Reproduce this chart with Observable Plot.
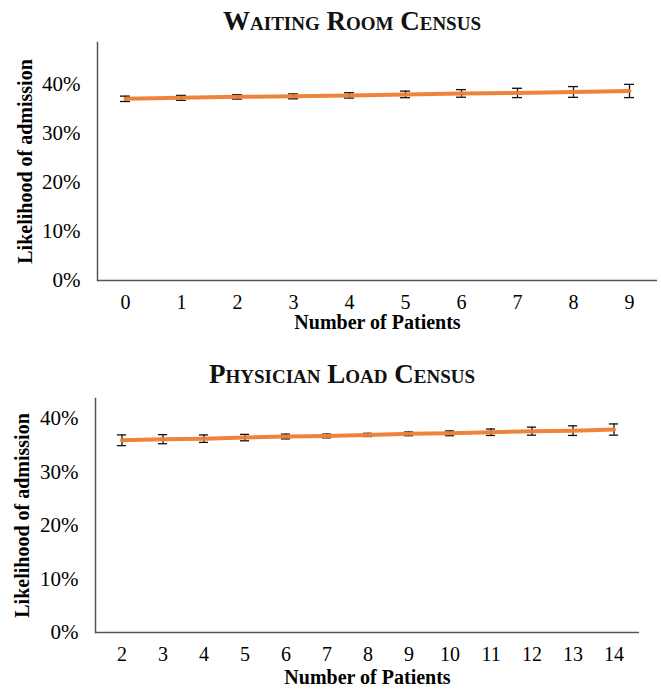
<!DOCTYPE html>
<html>
<head>
<meta charset="utf-8">
<script src="https://cdn.jsdelivr.net/npm/d3@7"></script>
<script src="https://cdn.jsdelivr.net/npm/@observablehq/plot@0.6"></script>
<style>
  body { margin: 0; background: #fff; }
  #root { position: relative; width: 661px; height: 690px; font-family: "Liberation Serif", "Times New Roman", serif; }
  .title { position: absolute; transform: translateX(-50%); white-space: nowrap; font-weight: bold; font-variant: small-caps; font-size: 27px; line-height: 1; color: #111; }
  .panel { position: absolute; left: 0; }
</style>
</head>
<body>
<div id="root"></div>
<script>
// ---- data ----
const waitingTitle = "Waiting Room Census";
const waitingCategories = [0, 1, 2, 3, 4, 5, 6, 7, 8, 9];
const waitingValues = [0.371, 0.373, 0.375, 0.376, 0.378, 0.380, 0.382, 0.383, 0.385, 0.387];
const waitingErrors = [0.0055, 0.005, 0.0045, 0.005, 0.0055, 0.0067, 0.0078, 0.0095, 0.011, 0.0135];

const physicianTitle = "Physician Load Census";
const physicianCategories = [2, 3, 4, 5, 6, 7, 8, 9, 10, 11, 12, 13, 14];
const physicianValues = [0.359, 0.361, 0.362, 0.364, 0.366, 0.367, 0.369, 0.371, 0.372, 0.374, 0.376, 0.377, 0.379];
const physicianErrors = [0.010, 0.0085, 0.007, 0.006, 0.0045, 0.0035, 0.003, 0.0035, 0.0045, 0.006, 0.0075, 0.009, 0.0105];

const yTicks = [0, 0.1, 0.2, 0.3, 0.4];
const yLabel = "Likelihood of admission";
const xLabel = "Number of Patients";

const serif = '"Liberation Serif", "Times New Roman", serif';

function panel({categories, values, errors, height, marginTop, marginBottom, marginLeft, marginRight, yMax, capWidth, yLabelDx, xLabelDy}) {
  const rows = categories.map((c, i) => ({x: c, y: values[i], lo: values[i] - errors[i], hi: values[i] + errors[i]}));
  const plotW = 661 - marginLeft - marginRight;
  const band = plotW / categories.length;
  const inset = (band - capWidth) / 2;
  return Plot.plot({
    width: 661,
    height,
    marginTop, marginBottom, marginLeft, marginRight,
    style: {fontFamily: serif, fontSize: "21px", color: "#000", background: "#fff", overflow: "visible"},
    x: {type: "band", domain: categories, padding: 0, label: null},
    y: {domain: [0, yMax], label: null},
    marks: [
      Plot.axisX({tickSize: 0, tickPadding: 14, fontSize: 20, label: null}),
      Plot.axisY({ticks: yTicks, tickFormat: d3.format(".0%"), tickSize: 0, tickPadding: 17, fontSize: 21, label: null}),
      Plot.ruleY([0], {stroke: "#555", strokeWidth: 1.5}),
      Plot.frame({anchor: "left", stroke: "#555", strokeWidth: 1.5}),
      Plot.ruleX(rows, {x: "x", y1: "lo", y2: "hi", stroke: "#111", strokeWidth: 1.3}),
      Plot.tickY(rows, {x: "x", y: "lo", stroke: "#111", strokeWidth: 1.3, insetLeft: inset, insetRight: inset}),
      Plot.tickY(rows, {x: "x", y: "hi", stroke: "#111", strokeWidth: 1.3, insetLeft: inset, insetRight: inset}),
      Plot.line(rows, {x: "x", y: "y", stroke: "#ED7D31", strokeWidth: 4, strokeOpacity: 0.95}),
      Plot.text([yLabel], {text: d => d, frameAnchor: "left", textAnchor: "middle", lineAnchor: "middle", dx: yLabelDx, rotate: -90, fontWeight: "bold", fontSize: 20, fill: "#000"}),
      Plot.text([xLabel], {text: d => d, frameAnchor: "bottom", textAnchor: "middle", lineAnchor: "middle", dy: xLabelDy, fontWeight: "bold", fontSize: 20, fill: "#000"})
    ]
  });
}

const root = document.getElementById("root");

function addTitle(text, cx, top) {
  const t = document.createElement("div");
  t.className = "title";
  t.textContent = text;
  t.style.left = cx + "px";
  t.style.top = top + "px";
  root.appendChild(t);
}

const p1 = panel({categories: waitingCategories, values: waitingValues, errors: waitingErrors,
  height: 345, marginTop: 42, marginBottom: 65, marginLeft: 97, marginRight: 4, yMax: 0.486, capWidth: 10,
  yLabelDx: -72, xLabelDy: 42});
p1.classList.add("panel");
p1.style.top = "0px";
root.appendChild(p1);

const p2 = panel({categories: physicianCategories, values: physicianValues, errors: physicianErrors,
  height: 345, marginTop: 53, marginBottom: 58, marginLeft: 95, marginRight: 22, yMax: 0.437, capWidth: 10,
  yLabelDx: -73, xLabelDy: 45});
p2.classList.add("panel");
p2.style.top = "345px";
root.appendChild(p2);

addTitle(waitingTitle, 352, 8);
addTitle(physicianTitle, 342, 361);
</script>
</body>
</html>
